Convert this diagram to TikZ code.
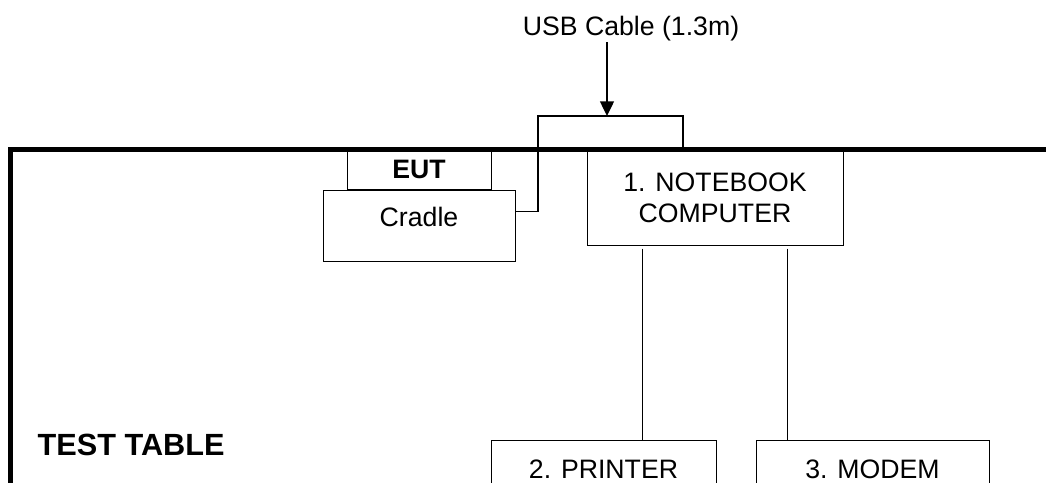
\documentclass[tikz,border=0pt]{standalone}
\usepackage{fontspec}
\setmainfont{Liberation Sans}
\usetikzlibrary{arrows.meta,calc,positioning}

\begin{document}
\begin{tikzpicture}[x=0.75pt,y=-0.75pt,
    box/.style={draw,line width=.75pt,inner sep=0pt,align=center,
                font=\fontsize{20}{23.5}\selectfont},
    wire/.style={line width=.9pt}]
  \useasboundingbox (0,0) rectangle (1046,482);
  \clip (0,0) rectangle (1046,482);
  % edge of the test table
  \draw[line width=3.75pt] (10.5,500) |- (1060,149);
  \node[font=\fontsize{23}{27}\selectfont\bfseries,anchor=base west] (table) at (33,455) {TEST TABLE};
  % EUT on its cradle
  \node[box,minimum width=108pt,minimum height=29.25pt,
        font=\fontsize{20}{24}\selectfont\bfseries] (eut) at (419,169.5) {EUT};
  \node[box,below=0pt of eut,minimum width=144pt,text height=27pt,text depth=26.25pt] (cradle) {Cradle};
  % support units
  \node[box,minimum width=192pt,minimum height=71.25pt] (nb) at (715,197.5) {1. NOTEBOOK\\COMPUTER};
  \node[box,anchor=north,minimum width=168.75pt,text height=28.5pt,text depth=31.5pt] (prn) at (603.5,440) {2. PRINTER};
  \node[box,right=29.25pt of prn,minimum width=174.75pt,text height=28.5pt,text depth=31.5pt] (mdm) {3. MODEM};
  \coordinate (pa) at ($(nb.south west)+(56,3)$);
  \coordinate (ma) at ($(nb.south west)+(201,3)$);
  \draw[wire] (pa) -- (pa |- prn.north);
  \draw[wire] (ma) -- (ma |- mdm.north);
  % USB cable
  \coordinate (cab) at (607,116);
  \coordinate (bl) at (538,116);
  \coordinate (br) at (683,149);
  \coordinate (port) at ($(cradle.north east)+(0,22)$);
  \node[font=\fontsize{20}{24}\selectfont,anchor=base,inner sep=1pt] (usb) at (631,35) {USB Cable (1.3m)};
  \draw[line width=1pt,-{Triangle[length=11pt,width=10.5pt]}] (usb.south -| cab) -- (cab);
  \draw[wire] (port) -| (bl) -| (br);
\end{tikzpicture}
\end{document}
